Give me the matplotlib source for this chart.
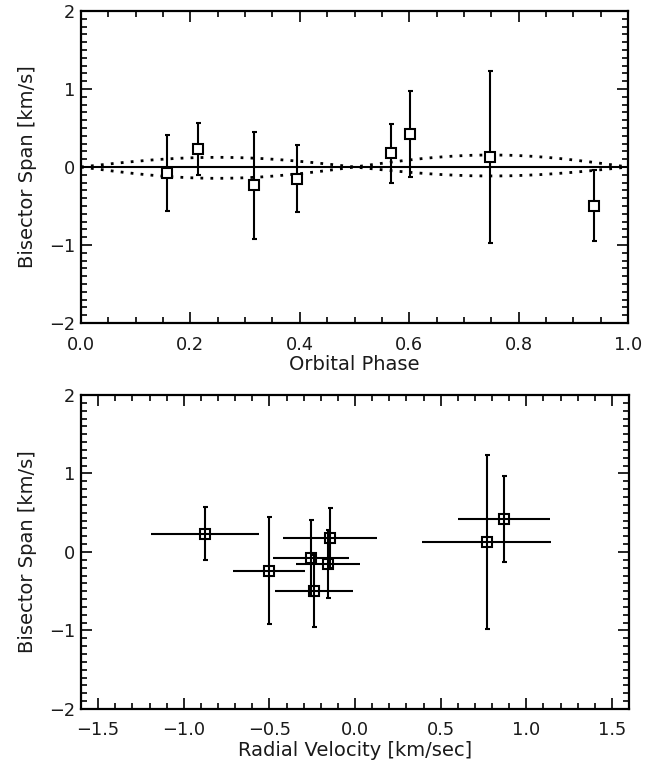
import numpy as np
import matplotlib
matplotlib.use('Agg')
import matplotlib.pyplot as plt
from matplotlib.ticker import MultipleLocator, FuncFormatter

# bisector span measurements
phase = [0.157, 0.214, 0.317, 0.394, 0.567, 0.601, 0.748, 0.937]
bisector = [-0.075, 0.235, -0.237, -0.15, 0.175, 0.42, 0.125, -0.495]
bisector_err = [0.485, 0.335, 0.68, 0.43, 0.38, 0.55, 1.105, 0.455]
rv = [-0.257, -0.876, -0.504, -0.16, -0.144, 0.87, 0.768, -0.24]
rv_err = [0.22, 0.316, 0.21, 0.187, 0.275, 0.271, 0.375, 0.23]

# amplitude of dotted model envelopes (first half, second half of orbit)
upper_amp = [0.124, 0.154]
lower_amp = [-0.145, -0.115]

lw = 1.5
txt = '#1a1a1a'
plt.rcParams['font.family'] = ['DejaVu Sans']
plt.rcParams['axes.linewidth'] = 1.6


def minus_fmt(fmt):
    return FuncFormatter(lambda v, p: (fmt % v).replace('-', '\u2212'))


def style_axes(ax):
    ax.tick_params(which='both', direction='in', top=True, right=True,
                   width=1.2, colors='black', labelcolor=txt, labelsize=12.8)
    ax.tick_params(which='major', length=8)
    ax.tick_params(which='minor', length=4)
    ax.tick_params(axis='x', which='major', pad=9)
    ax.tick_params(axis='y', which='major', pad=4)
    ax.set_ylim(-2, 2)
    ax.yaxis.set_major_locator(MultipleLocator(1))
    ax.yaxis.set_minor_locator(MultipleLocator(0.1))
    ax.yaxis.set_major_formatter(minus_fmt('%d'))
    ax.set_ylabel('Bisector Span [km/s]', fontsize=14, color=txt, labelpad=9)


fig = plt.figure(figsize=(6.57, 7.64), dpi=100)
ax1 = fig.add_axes([0.1233, 0.5772, 0.8326, 0.4084])
ax2 = fig.add_axes([0.1233, 0.0720, 0.8341, 0.4110])

# top: bisector vs orbital phase
ax1.axhline(0, color='black', lw=lw, zorder=1)
ph = np.linspace(0, 1, 401)
half = np.where(ph < 0.5, 0, 1)
env = np.abs(np.sin(2 * np.pi * ph))
ax1.plot(ph, np.take(upper_amp, half) * env, color='black', lw=2,
         ls=(0, (1, 2.6)), zorder=1)
ax1.plot(ph, np.take(lower_amp, half) * env, color='black', lw=2,
         ls=(0, (1, 2.6)), zorder=1)
ax1.errorbar(phase, bisector, yerr=bisector_err, fmt='none', ecolor='black',
             elinewidth=lw, capsize=1.8, capthick=lw, zorder=2)
ax1.plot(phase, bisector, 's', ms=7.5, mfc='white', mec='black', mew=1.5, zorder=3)
ax1.set_xlim(0, 1)
ax1.xaxis.set_major_locator(MultipleLocator(0.2))
ax1.xaxis.set_minor_locator(MultipleLocator(0.05))
ax1.xaxis.set_major_formatter(minus_fmt('%.1f'))
ax1.set_xlabel('Orbital Phase', fontsize=14, color=txt, labelpad=1)
style_axes(ax1)

# bottom: bisector vs radial velocity
ax2.errorbar(rv, bisector, xerr=rv_err, fmt='none', ecolor='black',
             elinewidth=lw, capsize=0, zorder=2)
ax2.errorbar(rv, bisector, yerr=bisector_err, fmt='none', ecolor='black',
             elinewidth=lw, capsize=1.8, capthick=lw, zorder=2)
ax2.plot(rv, bisector, 's', ms=6.5, mfc='none', mec='black', mew=1.5, zorder=3)
ax2.set_xlim(-1.6, 1.6)
ax2.xaxis.set_major_locator(MultipleLocator(0.5))
ax2.xaxis.set_minor_locator(MultipleLocator(0.1))
ax2.xaxis.set_major_formatter(minus_fmt('%.1f'))
ax2.set_xlabel('Radial Velocity [km/sec]', fontsize=14, color=txt, labelpad=1)
style_axes(ax2)

plt.savefig('out.png', dpi=100)
